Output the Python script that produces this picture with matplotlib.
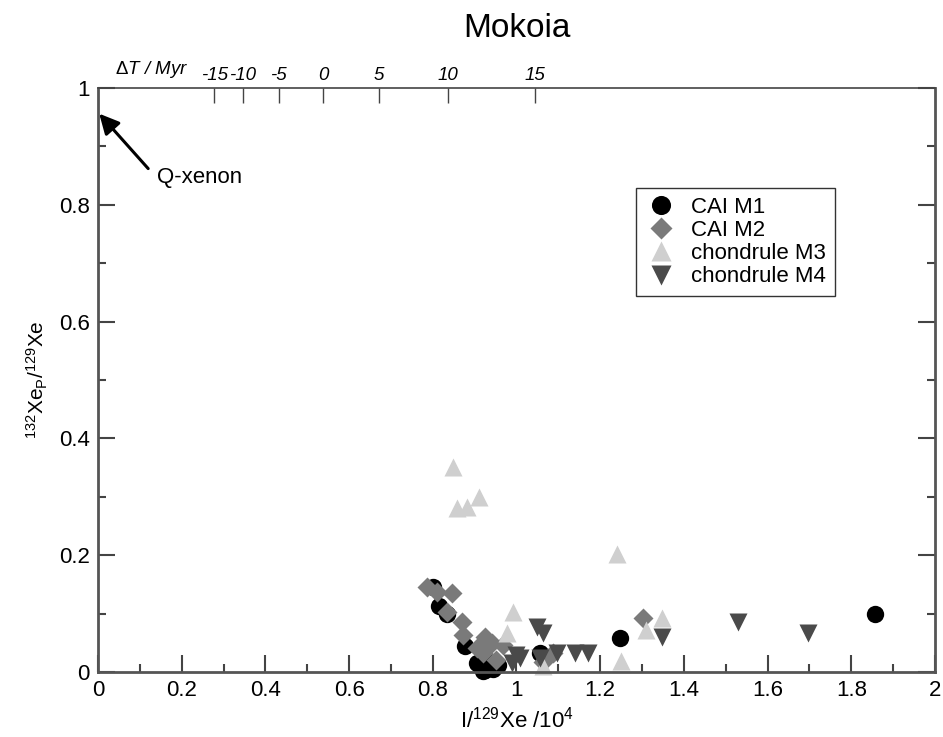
import numpy as np
import matplotlib
matplotlib.use('Agg')
import matplotlib.pyplot as plt
from matplotlib.ticker import MultipleLocator, FixedLocator

plt.rcParams['font.family'] = ['Liberation Sans', 'DejaVu Sans']
plt.rcParams['mathtext.fontset'] = 'custom'
plt.rcParams['mathtext.rm'] = 'Liberation Sans'
plt.rcParams['mathtext.it'] = 'Liberation Sans:italic'

# data
cai_m1_x = [0.800, 0.815, 0.834, 0.877, 0.905, 0.915, 0.925, 0.935, 0.945, 0.955, 0.930, 0.920,
            1.056, 1.247, 1.857]
cai_m1_y = [0.145, 0.113, 0.100, 0.044, 0.015, 0.008, 0.004, 0.010, 0.005, 0.012, 0.018, 0.002,
            0.032, 0.058, 0.099]

cai_m2_x = [0.786, 0.810, 0.846, 0.834, 0.870, 0.872, 0.905, 0.920, 0.925, 0.941, 0.968, 0.950,
            1.063, 1.088, 1.302]
cai_m2_y = [0.146, 0.137, 0.135, 0.103, 0.086, 0.063, 0.041, 0.032, 0.060, 0.050, 0.046, 0.020,
            0.017, 0.032, 0.093]

m3_x = [0.848, 0.858, 0.882, 0.910, 1.240, 0.992, 0.977, 1.250, 1.348, 1.309, 1.063]
m3_y = [0.351, 0.281, 0.283, 0.300, 0.202, 0.103, 0.067, 0.019, 0.092, 0.072, 0.010]

m4_x = [1.049, 1.064, 1.140, 1.171, 1.096, 1.008, 0.990, 1.000, 1.056, 1.348, 1.529, 1.697]
m4_y = [0.077, 0.067, 0.033, 0.032, 0.032, 0.024, 0.015, 0.029, 0.024, 0.060, 0.086, 0.067]

# top axis: I-129 age scale, Delta T = ln(x/x0)/lambda
dt_ticks = [-15, -10, -5, 0, 5, 10, 15]
x0 = 0.538
lam = np.log(2) / 15.7

fig = plt.figure(figsize=(9.43, 7.37), dpi=100)
ax = fig.add_axes([0.1039, 0.0882, 0.8876, 0.7924])

ax.plot(cai_m1_x, cai_m1_y, 'o', color='black', ms=12.5, mec='none', clip_on=False, label='CAI M1')
ax.plot(cai_m2_x, cai_m2_y, 'D', color='#7a7a7a', ms=10.5, mec='none', clip_on=False, label='CAI M2')
ax.plot(m3_x, m3_y, '^', color='#cfcfcf', ms=13.5, mec='none', clip_on=False, label='chondrule M3')
ax.plot(m4_x, m4_y, 'v', color='#4a4a4a', ms=13.5, mec='none', clip_on=False, label='chondrule M4')

ax.set_xlim(0, 2)
ax.set_ylim(0, 1)
ax.xaxis.set_major_locator(MultipleLocator(0.2))
ax.xaxis.set_minor_locator(MultipleLocator(0.1))
ax.yaxis.set_major_locator(MultipleLocator(0.2))
ax.yaxis.set_minor_locator(MultipleLocator(0.1))
ax.xaxis.set_major_formatter(plt.FuncFormatter(lambda v, p: '%g' % v))
ax.yaxis.set_major_formatter(plt.FuncFormatter(lambda v, p: '%g' % v))
ax.tick_params(which='both', direction='in', top=False, right=True, color='#444444', width=1.5,
               labelsize=16, pad=6)
ax.tick_params(which='major', length=12)
ax.tick_params(which='minor', length=6)
for side in ['left', 'bottom', 'right']:
    ax.spines[side].set_color('#555555')
    ax.spines[side].set_linewidth(2)
ax.spines['top'].set_color('#444444')
ax.spines['top'].set_linewidth(1.2)

ax.set_xlabel(r'I/$^{129}$Xe /10$^4$', fontsize=16, labelpad=4)
ax.set_ylabel(r'$^{132}$Xe$_\mathrm{P}$/$^{129}$Xe', fontsize=15, labelpad=6)

top = ax.twiny()
top.set_xlim(ax.get_xlim())
top.xaxis.set_major_locator(FixedLocator([x0 * np.exp(lam * t) for t in dt_ticks]))
top.set_xticklabels([str(t) for t in dt_ticks], fontstyle='italic', fontsize=13.5)
top.xaxis.set_minor_locator(FixedLocator([]))
top.tick_params(direction='in', length=11, width=1, color='#444444', pad=3)
for s in top.spines.values():
    s.set_visible(False)
ax.text(0.064, 1.024, r'$\Delta$$\mathit{T}$ / Myr', transform=ax.transAxes, ha='center',
        va='baseline', fontsize=13.5, fontstyle='italic')

ax.annotate('', xy=(0.003, 0.956), xytext=(0.12, 0.862),
            arrowprops=dict(arrowstyle='-|>', color='black', lw=2.2, mutation_scale=30,
                            shrinkA=0, shrinkB=0))
ax.text(0.141, 0.846, 'Q-xenon', fontsize=16, va='center', ha='left')

leg = ax.legend(loc='upper left', bbox_to_anchor=(0.629, 0.848), fontsize=16, frameon=True,
                fancybox=False, edgecolor='black', borderpad=0.4, labelspacing=0.1,
                handletextpad=0.6, handlelength=1.5, numpoints=1, markerscale=1.1)
leg.get_frame().set_linewidth(1.0)

fig.text(0.548, 0.962, 'Mokoia', ha='center', va='center', fontsize=24)

fig.savefig('out.png', dpi=100)
